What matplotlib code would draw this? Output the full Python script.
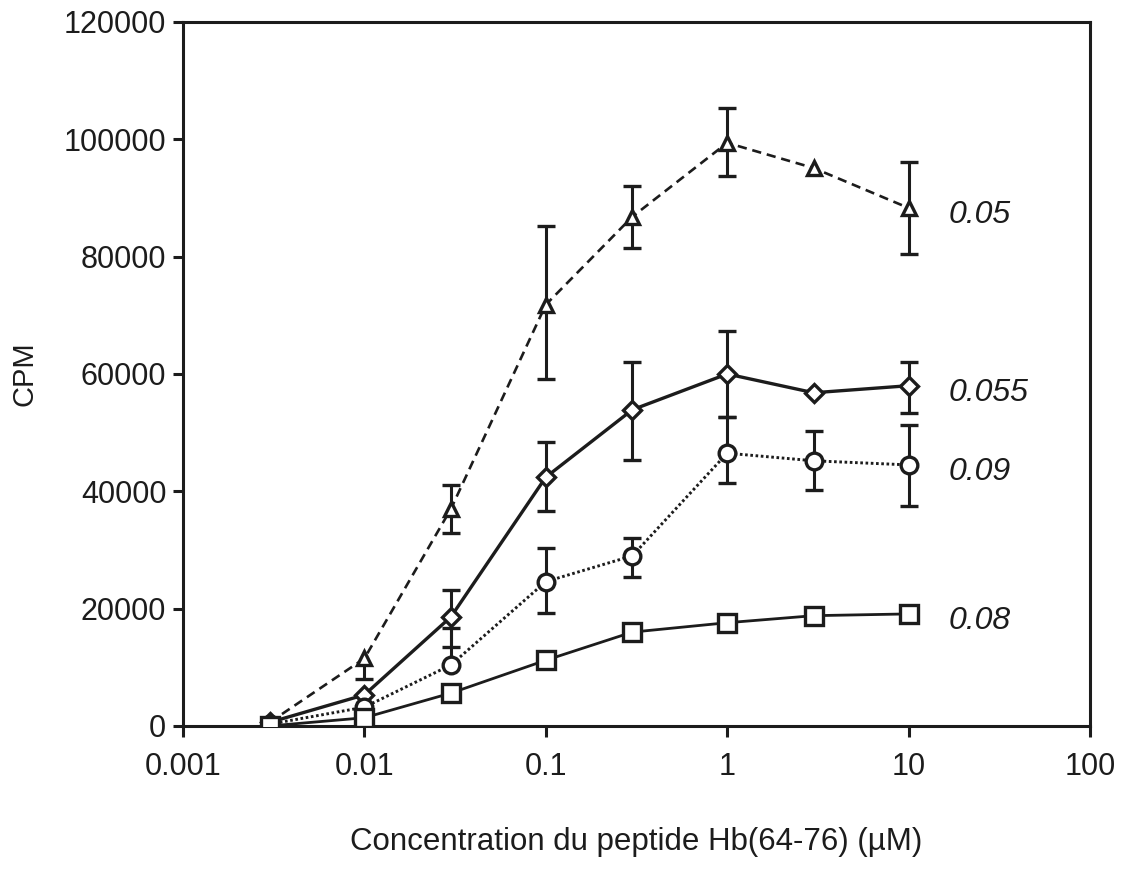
import numpy as np
import matplotlib.pyplot as plt

# concentrations (uM)
conc = [0.003, 0.01, 0.03, 0.1, 0.3, 1, 3, 10]

# CPM per series (label = value written at the end of the curve)
cpm_triangle = [600, 11500, 37000, 71800, 86800, 99400, 95100, 88300]
cpm_diamond = [600, 5300, 18600, 42400, 53900, 60000, 56800, 58000]
cpm_circle = [300, 3200, 10400, 24600, 29000, 46500, 45200, 44500]
cpm_square = [0, 1400, 5600, 11200, 16000, 17600, 18800, 19100]

# error bars, upper / lower (0 = not drawn)
err_up_triangle = [0, 0, 4100, 13400, 5200, 6000, 0, 7900]
err_lo_triangle = [0, 3500, 4100, 12600, 5300, 5600, 0, 7800]
err_up_diamond = [0, 0, 4600, 6000, 8200, 7300, 0, 4000]
err_lo_diamond = [0, 0, 5100, 5700, 8500, 7300, 0, 4600]
err_up_circle = [0, 0, 6300, 5700, 3000, 6200, 5100, 6800]
err_lo_circle = [0, 0, 0, 5300, 3600, 5100, 5000, 7000]
err_up_square = [0] * 8
err_lo_square = [0] * 8

series_labels = ['0.05', '0.055', '0.09', '0.08']

x_ticks = [0.001, 0.01, 0.1, 1, 10, 100]
x_tick_labels = ['0.001', '0.01', '0.1', '1', '10', '100']
y_ticks = [0, 20000, 40000, 60000, 80000, 100000, 120000]

ink = '#1c1c1c'
plt.rcParams['font.family'] = ['Liberation Sans', 'DejaVu Sans']


def draw_errors(ax, x, y, up, lo):
    x = np.array(x, dtype=float)
    y = np.array(y, dtype=float)
    for err, sign in ((np.array(up, dtype=float), 1), (np.array(lo, dtype=float), -1)):
        sel = err > 0
        if not sel.any():
            continue
        ends = y[sel] + sign * err[sel]
        ax.vlines(x[sel], y[sel], ends, colors=ink, linewidth=2.2, zorder=1)
        ax.plot(x[sel], ends, linestyle='none', marker='_', markersize=13,
                markeredgewidth=2.4, color=ink, zorder=1)


fig = plt.figure(figsize=(11.26, 8.69), dpi=100)
ax = fig.add_axes([0.1625, 0.1646, 0.8055, 0.8101])

series = [
    (cpm_triangle, err_up_triangle, err_lo_triangle, '^', 10, (0, (3.5, 2.2)), 1.9),
    (cpm_diamond, err_up_diamond, err_lo_diamond, 'D', 9, '-', 2.4),
    (cpm_circle, err_up_circle, err_lo_circle, 'o', 12, (0, (0.9, 0.9)), 2.1),
    (cpm_square, err_up_square, err_lo_square, 's', 12.5, '-', 2.0),
]

for (vals, up, lo, marker, ms, ls, lw), label in zip(series, series_labels):
    draw_errors(ax, conc, vals, up, lo)
    ax.plot(conc, vals, color=ink, linestyle=ls, linewidth=lw, marker=marker,
            markersize=ms, markerfacecolor='white', markeredgecolor=ink,
            markeredgewidth=2.4, zorder=3)
    ax.annotate(label, xy=(conc[-1], vals[-1]), xytext=(29, -5),
                textcoords='offset points', ha='left', va='center',
                fontsize=23, style='italic', color=ink)

ax.set_xscale('log')
ax.set_xlim(0.001, 100)
ax.set_ylim(0, 120000)
ax.set_xticks(x_ticks)
ax.set_xticklabels(x_tick_labels)
ax.minorticks_off()
ax.set_yticks(y_ticks)
ax.set_yticklabels([str(v) for v in y_ticks])

for side in ax.spines.values():
    side.set_linewidth(2.2)
    side.set_color(ink)
ax.tick_params(direction='out', width=2.2, colors=ink, labelsize=22)
ax.tick_params(axis='x', length=8, pad=11)
ax.tick_params(axis='y', length=7, pad=5)

ax.set_xlabel('Concentration du peptide Hb(64-76) (\u00b5M)', fontsize=22.5,
              color=ink, labelpad=32)
ax.set_ylabel('CPM', fontsize=21, color=ink, labelpad=18)

fig.savefig('out.png', dpi=100)
